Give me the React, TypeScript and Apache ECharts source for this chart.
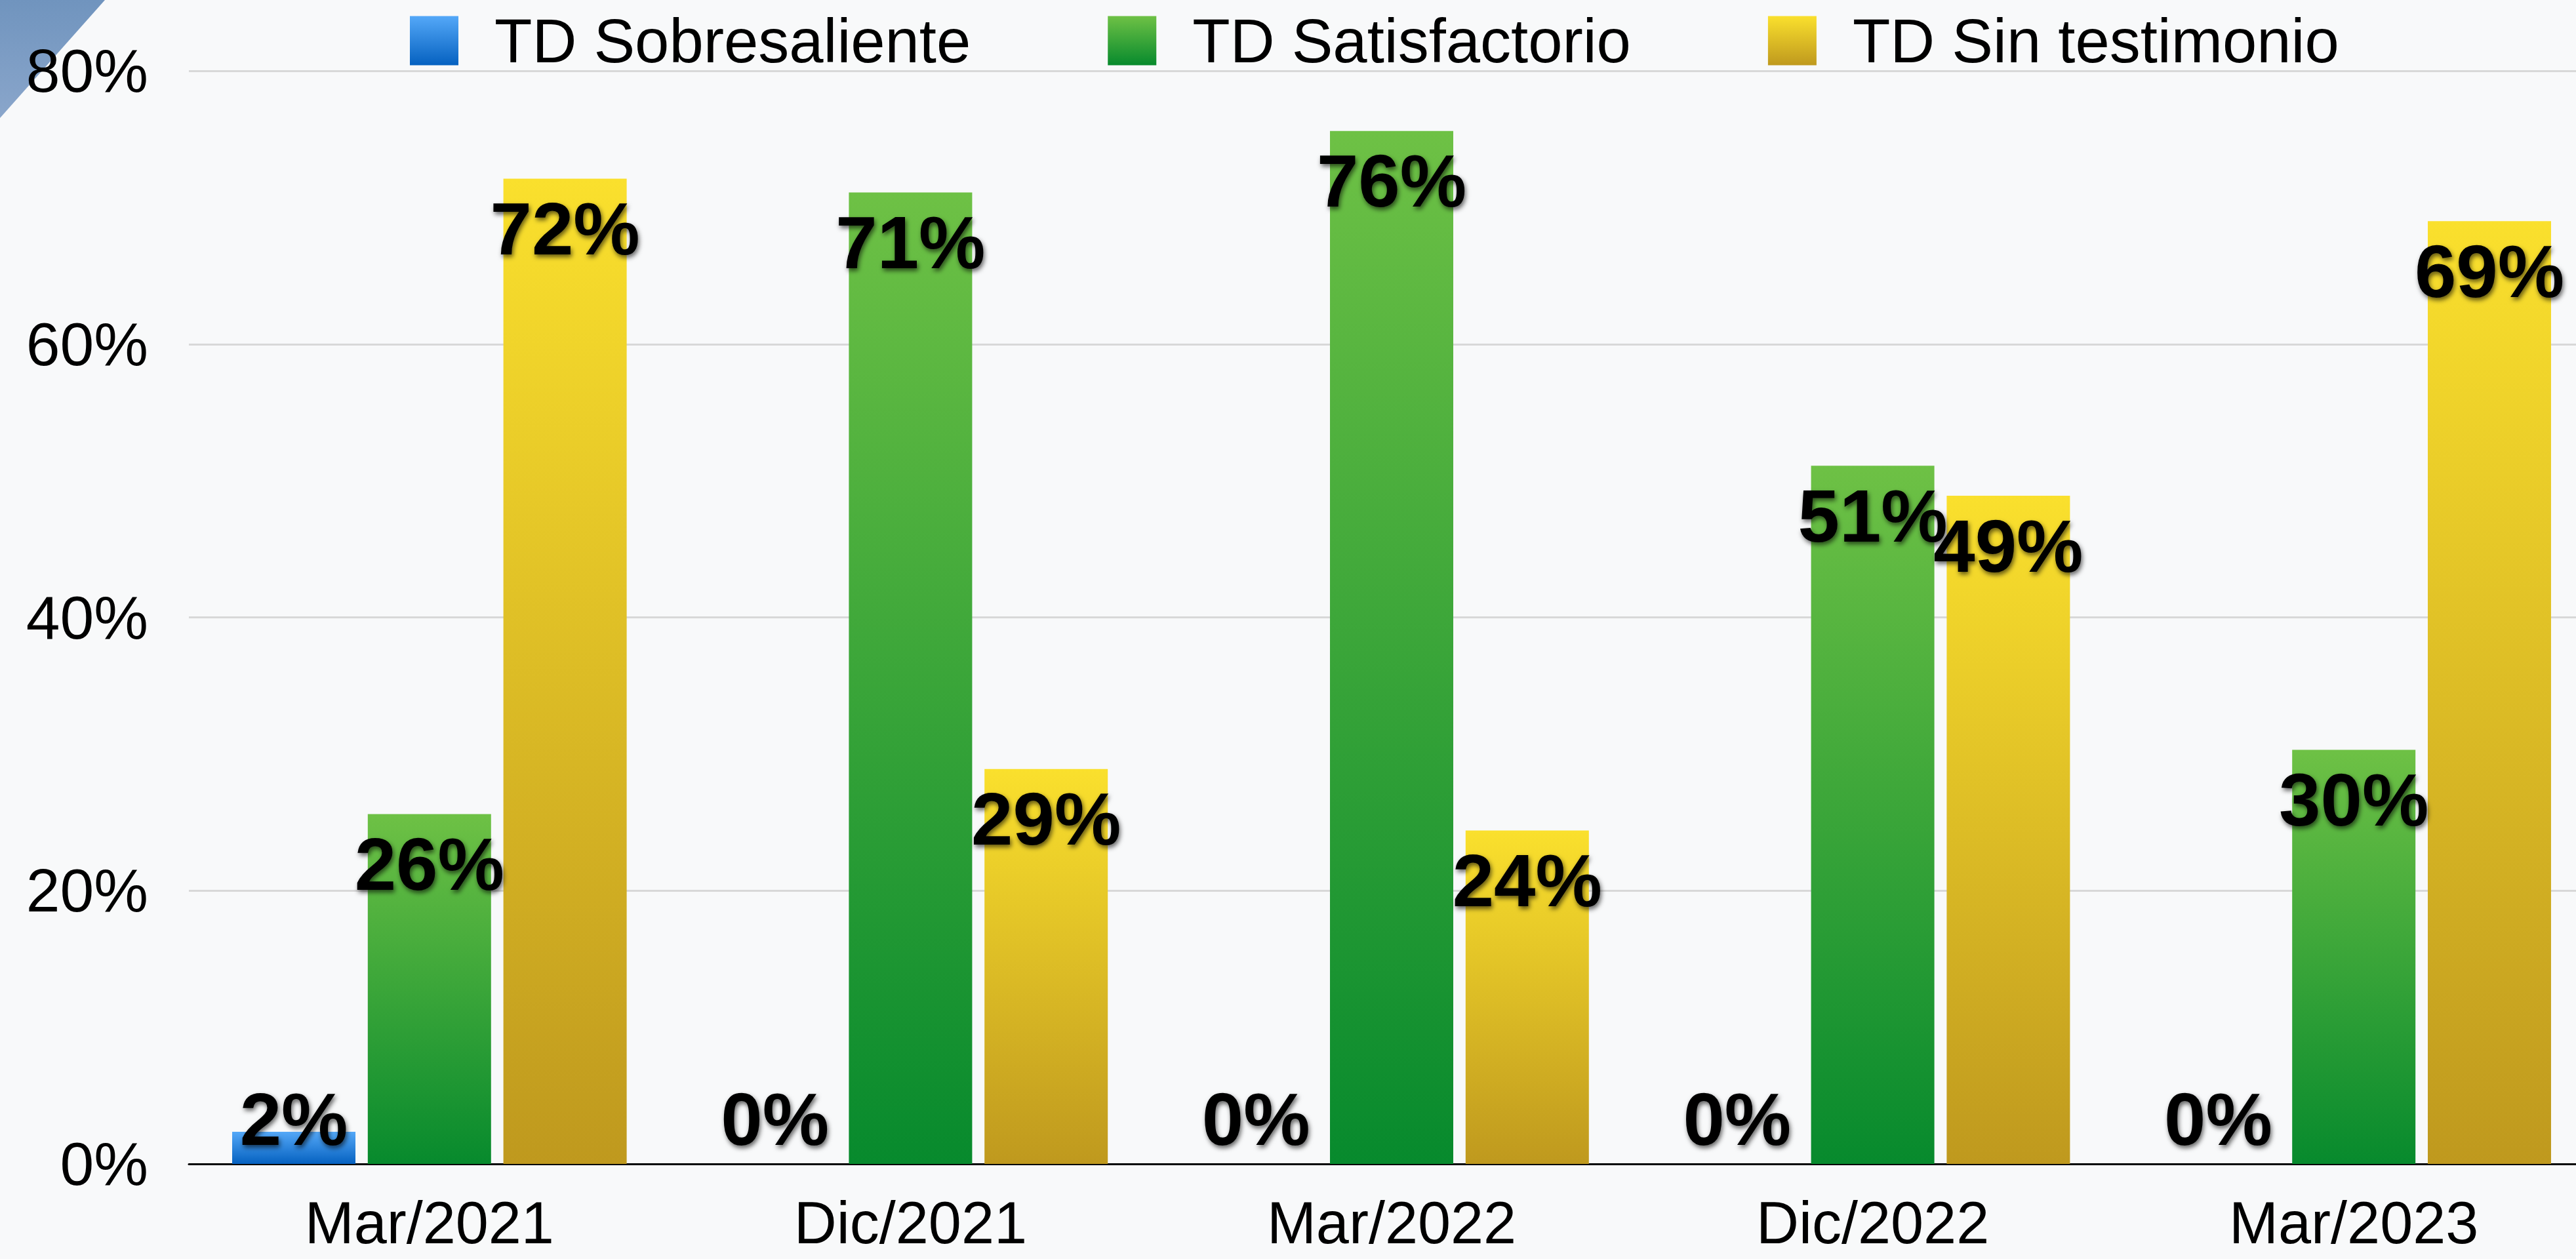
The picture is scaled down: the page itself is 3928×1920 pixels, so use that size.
import React, { useEffect, useRef } from 'react';
import * as echarts from 'echarts';

const categories = ['Mar/2021', 'Dic/2021', 'Mar/2022', 'Dic/2022', 'Mar/2023'];
const seriesNames = ['TD Sobresaliente', 'TD Satisfactorio', 'TD Sin testimonio'];
const sobresaliente = [2.35, 0, 0, 0, 0];
const satisfactorio = [25.6, 71.1, 75.6, 51.1, 30.3];
const sinTestimonio = [72.1, 28.9, 24.4, 48.9, 69.0];
const yTicks = [0, 20, 40, 60, 80];

const gradTops = ['#54A8F8', '#6EC145', '#FAE02D'];
const gradBottoms = ['#0561C0', '#078A2D', '#BF991E'];

const fontFamily = "'Liberation Sans', Arial, Helvetica, sans-serif";

function grad(top: string, bottom: string) {
  return new echarts.graphic.LinearGradient(0, 0, 0, 1, [
    { offset: 0, color: top },
    { offset: 1, color: bottom },
  ]);
}

function toItems(vals: number[]) {
  return vals.map((v) =>
    v < 7 ? { value: v, label: { position: 'insideBottom', distance: 12 } } : { value: v }
  );
}

export default function App() {
  const ref = useRef<HTMLDivElement>(null);
  useEffect(() => {
    if (!ref.current) return;
    const chart = echarts.init(ref.current, undefined, { renderer: 'svg' });
    const allSeries = [sobresaliente, satisfactorio, sinTestimonio];
    const option: any = {
      animation: false,
      backgroundColor: '#F8F9FA',
      graphic: [
        {
          type: 'polygon',
          z: -10,
          silent: true,
          shape: { points: [[0, 0], [160, 0], [0, 180]] },
          style: {
            fill: new echarts.graphic.LinearGradient(0, 0, 0, 1, [
              { offset: 0, color: '#7094BE' },
              { offset: 1, color: '#8AA6CB' },
            ]),
          },
        },
      ],
      legend: {
        left: 620,
        top: 10,
        itemWidth: 74,
        itemHeight: 75,
        itemGap: 209,
        icon: 'rect',
        data: seriesNames,
        textStyle: { fontSize: 94, color: '#000', fontFamily, padding: [0, 0, 0, 50] },
      },
      grid: {
        left: 288,
        top: 108,
        width: 3668,
        height: 1667,
        containLabel: false,
        outerBoundsMode: 'none',
      },
      xAxis: {
        type: 'category',
        data: categories,
        axisLine: { lineStyle: { color: '#000', width: 3 } },
        axisTick: { show: false },
        axisLabel: {
          fontSize: 90,
          lineHeight: 78,
          color: '#000',
          fontFamily,
          margin: 51,
          interval: 0,
        },
      },
      yAxis: {
        type: 'value',
        min: yTicks[0],
        max: yTicks[yTicks.length - 1],
        interval: yTicks[1] - yTicks[0],
        axisLine: { show: false },
        axisTick: { show: false },
        splitLine: { lineStyle: { color: '#D8D8D8', width: 3 } },
        axisLabel: { formatter: '{value}%', fontSize: 93, color: '#000', fontFamily, margin: 62 },
      },
      series: seriesNames.map((name, i) => ({
        name,
        type: 'bar',
        barWidth: 188,
        barGap: '10%',
        data: toItems(allSeries[i]),
        itemStyle: { color: grad(gradTops[i], gradBottoms[i]) },
        label: {
          show: true,
          position: 'insideTop',
          distance: 19,
          formatter: (p: any) => Math.round(p.value) + '%',
          fontSize: 114,
          lineHeight: 114,
          fontWeight: 'bold',
          color: '#000',
          fontFamily,
          textShadowColor: 'rgba(0,0,0,0.6)',
          textShadowBlur: 7,
          textShadowOffsetX: 2,
          textShadowOffsetY: 4,
        },
      })),
    };
    chart.setOption(option);
    return () => chart.dispose();
  }, []);
  return (
    <div
      ref={ref}
      style={{ position: 'fixed', left: 0, top: 0, width: 3928, height: 1920 }}
    />
  );
}
